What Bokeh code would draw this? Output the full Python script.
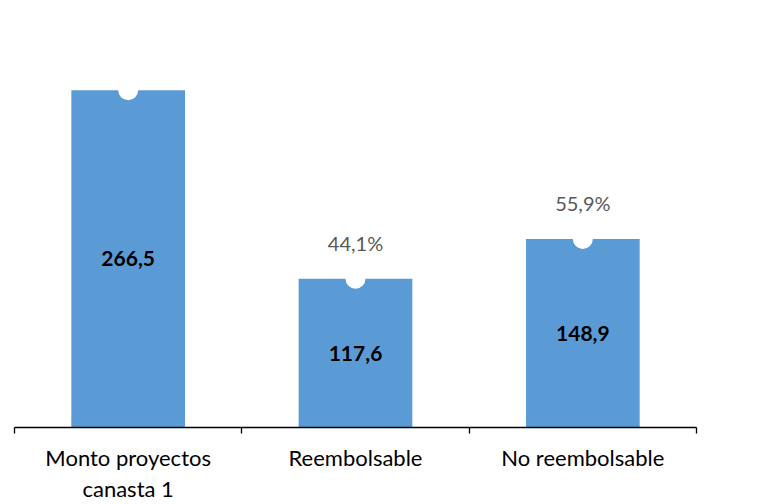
from bokeh.plotting import figure
from bokeh.models import FixedTicker, Range1d
from bokeh.core.properties import value
from bokeh.embed import file_html
from bokeh.resources import INLINE

categories = ["Monto proyectos\ncanasta 1", "Reembolsable", "No reembolsable"]
amounts = [266.5, 117.6, 148.9]
shares = [None, 44.1, 55.9]

FONT = "Lato"
BAR = "#5B9BD5"

xs = [i + 0.5 for i in range(len(categories))]

p = figure(width=766, height=504, output_backend="svg", toolbar_location=None,
           x_range=Range1d(0, 3), y_range=Range1d(0, 331),
           min_border_left=14, min_border_right=70, min_border_top=8, min_border_bottom=72)
p.outline_line_color = None
p.grid.visible = False
p.yaxis.visible = False
p.background_fill_color = "white"
p.border_fill_color = "white"

p.vbar(x=xs, top=amounts, width=0.5, fill_color=BAR, line_color=None)
p.scatter(x=xs, y=amounts, size=20, fill_color="white", line_color=None)

amt_labels = [f"{v:.1f}".replace(".", ",") for v in amounts]
p.text(x=xs, y=[v / 2 for v in amounts], text=amt_labels, text_align="center",
       text_baseline="middle", text_font=value(FONT), text_font_size="21px",
       text_font_style="bold", text_color="black")

sx = [x for x, s in zip(xs, shares) if s is not None]
sy = [a for a, s in zip(amounts, shares) if s is not None]
st = [f"{s:.1f}".replace(".", ",") + "%" for s in shares if s is not None]
p.text(x=sx, y=sy, text=st, text_align="center", text_baseline="middle",
       y_offset=-36, text_font=value(FONT), text_font_size="20px", text_color="#595959")

ax = p.xaxis[0]
ax.ticker = FixedTicker(ticks=xs, minor_ticks=[0, 1, 2, 3])
ax.major_label_overrides = {x: c for x, c in zip(xs, categories)}
ax.major_tick_line_color = None
ax.major_tick_in = 0
ax.major_tick_out = 6
ax.minor_tick_in = 0
ax.minor_tick_out = 6
ax.minor_tick_line_color = "black"
ax.minor_tick_line_width = 1.3
ax.axis_line_color = "black"
ax.axis_line_width = 1.3
ax.major_label_text_font = FONT
ax.major_label_text_font_size = "22px"
ax.major_label_text_line_height = 1.15
ax.major_label_text_color = "black"
ax.major_label_standoff = 10

open("out.html", "w").write(file_html(p, INLINE))
